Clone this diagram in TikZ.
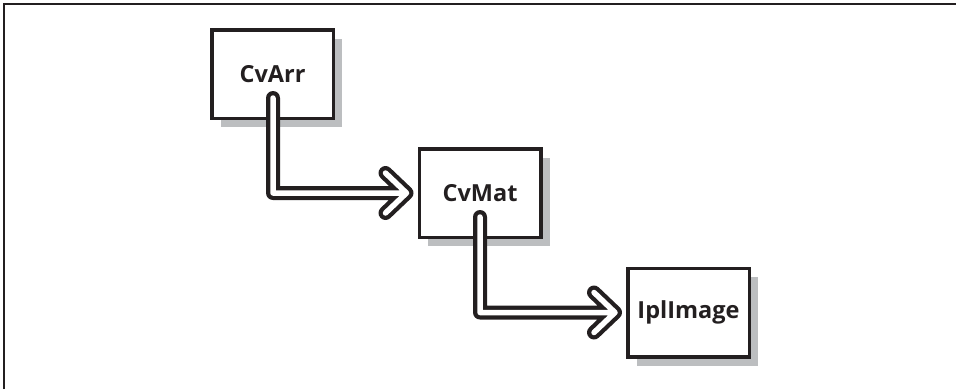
\documentclass[tikz,border=0pt]{standalone}
\usepackage{fontspec}
\setmainfont{Open Sans}
\usetikzlibrary{shadows,calc}
\definecolor{shadowgray}{HTML}{BCBEC0}
\definecolor{ink}{HTML}{231F20}
\tikzset{
  box/.style={draw=ink, line width=3.5pt, fill=white, minimum width=121.5pt, minimum height=88.5pt,
    inner sep=0pt, font=\fontsize{23.5}{28}\selectfont\bfseries, text=ink,
    drop shadow={shadow xshift=9pt, shadow yshift=-9pt, fill=shadowgray, opacity=1}},
  pipeouter/.style={draw=ink, line width=14pt, line cap=round, line join=round},
  pipeinner/.style={draw=white, line width=5.5pt, line cap=round, line join=round},
}
\begin{document}
\begin{tikzpicture}[x=1pt,y=-1pt]
\useasboundingbox (0,0) rectangle (956,389);
\draw[ink, line width=2pt] (3.5,389) -- (3.5,3.5) -- (956,3.5);

\node[box] (cvarr) at (272.5,74) {CvArr};
\node[box] (cvmat) at (480,193) {CvMat};
\node[box] (ipl) at (688.5,312.5) {IplImage};

% arrow 1
\coordinate (s1) at ($(cvarr.south)+(0.5,-22)$);
\coordinate (t1) at ($(cvmat.west)+(-11,0)$);
% arrow 2
\coordinate (s2) at ($(cvmat.south)+(0,-22)$);
\coordinate (t2) at ($(ipl.west)+(-11,0)$);

\foreach \s/\t in {s1/t1, s2/t2}{
  \draw[pipeouter] (\s) |- (\t) -- ++(-21,-20) (\t) -- ++(-21,20);
  \draw[pipeinner] (\s) |- (\t) -- ++(-21,-20) (\t) -- ++(-21,20);
}
\end{tikzpicture}
\end{document}
